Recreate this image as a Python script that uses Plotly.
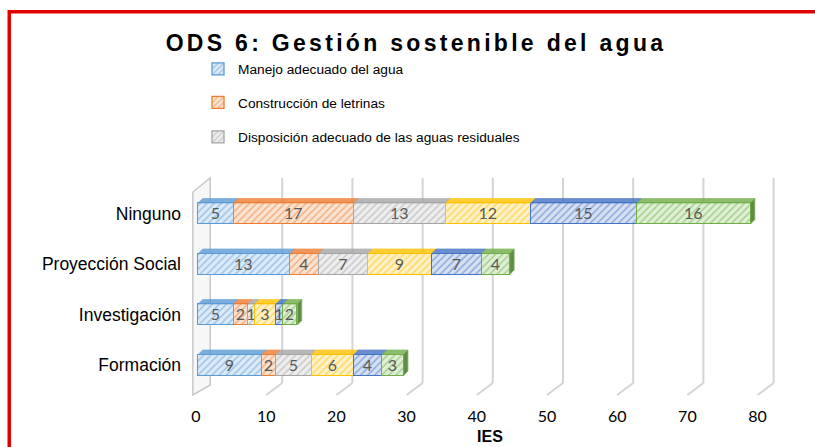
import plotly.graph_objects as go

# ---------------- data ----------------
categories = ["Formación", "Investigación", "Proyección Social", "Ninguno"]
series_names = [
    "Manejo adecuado del agua",
    "Construcción de letrinas",
    "Disposición adecuado de las aguas residuales",
    "Serie 4",
    "Serie 5",
    "Serie 6",
]
manejo = [9, 5, 13, 5]
letrinas = [2, 2, 4, 17]
disposicion = [5, 1, 7, 13]
serie4 = [6, 3, 9, 12]
serie5 = [4, 1, 7, 15]
serie6 = [3, 2, 4, 16]
x_ticks = [0, 10, 20, 30, 40, 50, 60, 70, 80]
title_text = "ODS 6: Gestión sostenible del agua"
x_title = "IES"

all_series = [manejo, letrinas, disposicion, serie4, serie5, serie6]

# ---------------- style ----------------
base_colors = ["#5B9BD5", "#ED7D31", "#A5A5A5", "#FFC000", "#4472C4", "#70AD47"]
light_colors = ["#DCEAF7", "#FBE3D3", "#EDEDED", "#FFF1C7", "#D6E0F2", "#DFEFD5"]
side_colors = ["#41719C", "#AE5A21", "#7B7B7B", "#BC8C00", "#2F528F", "#507E32"]

W, H = 815, 447
L, R, T, B = 190, 790, 178, 395          # plot area in pixels
BAR_X0, BAR_K = 198.3, 7.08               # bar scale: px of 0, px per unit
TCK_X0, TCK_K = 196.0, 7.02               # tick scale
Y_FORM, Y_STEP = 365.0, 50.5
BAR_W = 21 / Y_STEP
DX_BAR = 4.3 / BAR_K
DY_BAR = 4.5 / Y_STEP
GRID_OFF = 16 / TCK_K

bar_range = [(L - BAR_X0) / BAR_K, (R - BAR_X0) / BAR_K]
tck_range = [(L - TCK_X0) / TCK_K, (R - TCK_X0) / TCK_K]
y_range = [-(B - Y_FORM) / Y_STEP, 3 + (Y_FORM - 3 * Y_STEP - T) / Y_STEP]


def py2paper(py):
    return (B - py) / (B - T)


def px2paper(px):
    return (px - L) / (R - L)


fig = go.Figure()
legends = ["legend", "legend2", "legend3"]
for i, (name, vals) in enumerate(zip(series_names, all_series)):
    fig.add_trace(go.Bar(
        y=categories, x=vals, orientation="h", name=name,
        width=BAR_W,
        marker=dict(
            color=light_colors[i],
            line=dict(color=base_colors[i], width=1.3),
            pattern=dict(shape="/", fgcolor=base_colors[i], bgcolor=light_colors[i],
                         size=5, solidity=0.3),
        ),
        text=[str(v) for v in vals], textposition="inside",
        insidetextanchor="middle", textangle=0,
        textfont=dict(family="Lato, Carlito, sans-serif", size=16, color="#595959"),
        showlegend=i < 3,
        legend=legends[i] if i < 3 else "legend",
        hoverinfo="x+y+name",
    ))

shapes = []
# back wall gridlines (3D look) on tick axis
grid_col = "#D4D4D4"
floor_back = py2paper(383)
for v in x_ticks:
    if v == 0:
        continue
    shapes.append(dict(type="line", xref="x2", yref="paper", x0=v + GRID_OFF, x1=v + GRID_OFF,
                       y0=floor_back, y1=1.0, line=dict(color=grid_col, width=2), layer="below"))
    shapes.append(dict(type="line", xref="x2", yref="paper", x0=v, x1=v + GRID_OFF,
                       y0=0.0, y1=floor_back, line=dict(color=grid_col, width=2), layer="below"))
# left wall
wf = -0.45
shapes.append(dict(type="path", xref="x2", yref="paper",
                   path=f"M {wf},0 L {wf},{py2paper(192)} L {wf + GRID_OFF + 0.2},1 "
                        f"L {wf + GRID_OFF + 0.2},{py2paper(385)} Z",
                   line=dict(color="#C8C8C8", width=1.5), fillcolor="rgba(242,242,242,0.6)",
                   layer="below"))

# 3D top faces and end face, computed from the data
for c in range(len(categories)):
    cum = 0
    for i, vals in enumerate(all_series):
        x0, x1 = cum, cum + vals[c]
        cum = x1
        yt = c + BAR_W / 2
        shapes.append(dict(type="path", xref="x", yref="y",
                           path=f"M {x0},{yt} L {x1},{yt} L {x1 + DX_BAR},{yt + DY_BAR} "
                                f"L {x0 + DX_BAR},{yt + DY_BAR} Z",
                           fillcolor=base_colors[i], opacity=0.8,
                           line=dict(color=base_colors[i], width=0.8), layer="above"))
        if i == len(all_series) - 1:
            yb = c - BAR_W / 2
            shapes.append(dict(type="path", xref="x", yref="y",
                               path=f"M {x1},{yb} L {x1},{yt} L {x1 + DX_BAR},{yt + DY_BAR} "
                                    f"L {x1 + DX_BAR},{yb + DY_BAR} Z",
                               fillcolor=side_colors[i], opacity=0.9,
                               line=dict(color=base_colors[i], width=0.8), layer="above"))

# red frame
shapes.append(dict(type="rect", xref="paper", yref="paper",
                   x0=px2paper(9.25), x1=px2paper(W + 40), y0=py2paper(11.75), y1=py2paper(H + 40),
                   line=dict(color="#E10000", width=3.5), fillcolor="rgba(0,0,0,0)", layer="above"))

legend_common = dict(xref="container", yref="container", xanchor="left", yanchor="middle",
                     x=198 / W, font=dict(family="Liberation Sans, Arial, sans-serif", size=13.7,
                                          color="#000000"),
                     bgcolor="rgba(0,0,0,0)", itemwidth=30)

fig.update_layout(
    width=W, height=H, autosize=False,
    margin=dict(l=L, r=W - R, t=T, b=H - B, pad=0, autoexpand=False),
    paper_bgcolor="white", plot_bgcolor="white",
    barmode="stack", bargap=0,
    title=dict(text=title_text, x=416 / W, xanchor="center", xref="container",
               y=1 - 42.5 / H, yref="container", yanchor="middle",
               font=dict(family="Liberation Sans, Arial, sans-serif", size=23,
                         color="#000000", weight="bold")),
    xaxis=dict(range=bar_range, visible=False, fixedrange=True),
    xaxis2=dict(range=tck_range, overlaying="x", anchor="y", side="bottom",
                tickvals=x_ticks, ticktext=[str(v) for v in x_ticks], tickangle=0,
                showgrid=False, zeroline=False, showline=False, ticks="",
                tickfont=dict(family="Lato, Carlito, sans-serif", size=16, color="#000000"),
                ticklabelstandoff=10,
                title=dict(text=x_title, standoff=6,
                           font=dict(family="Liberation Sans, Arial, sans-serif", size=16,
                                     color="#000000", weight="bold"))),
    yaxis=dict(range=y_range, type="category", categoryorder="array", categoryarray=categories,
               showgrid=False, zeroline=False, showline=False, ticks="",
               tickfont=dict(family="Liberation Sans, Arial, sans-serif", size=17.5, color="#000000"),
               ticklabelstandoff=8),
    legend=dict(legend_common, y=1 - 69 / H),
    legend2=dict(legend_common, y=1 - 102.5 / H),
    legend3=dict(legend_common, y=1 - 137 / H),
    uniformtext=dict(minsize=16, mode="show"),
    shapes=shapes,
)

post = ("document.body.style.margin = '0';"
        "document.querySelectorAll('.gtitle').forEach(e => e.style.letterSpacing = '3.3px');")
fig.write_html("out.html", post_script=post, config={"displayModeBar": False})
